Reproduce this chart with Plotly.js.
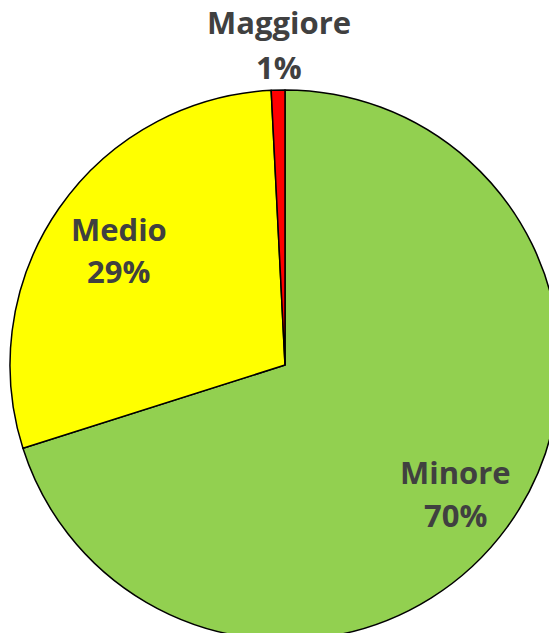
<!DOCTYPE html>
<html><head><meta charset="utf-8">
<script src="https://cdn.plot.ly/plotly-3.0.1.min.js"></script>
<style>html,body{margin:0;padding:0;overflow:hidden;width:549px;height:633px;background:#fff}
#chart{position:absolute;left:0;top:0;width:570px;height:730px}</style>
</head><body><div id="chart"></div>
<script>
const categories = ['Minore', 'Medio', 'Maggiore'];
const values = [70.1, 29.1, 0.8];
const colors = ['#92D050', '#FFFF00', '#FF0000'];

// label placement (pixel centers in page) — layout only
const labelPos = [[455, 472, 515], [118.5, 228.5, 271], [278.5, 22.5, 67]];

const W = 570, H = 730, T = 90, B = 90;
const total = values.reduce((a, b) => a + b, 0);
const font = {family: 'Open Sans', size: 31, color: '#404040'};
const annotations = [];
categories.forEach((c, i) => {
  const pct = Math.round(values[i] / total * 100) + '%';
  const [x, y1, y2] = labelPos[i];
  [[c, y1], [pct, y2]].forEach(([t, y]) => {
    annotations.push({
      text: '<b>' + t + '</b>', showarrow: false,
      xref: 'paper', yref: 'paper',
      x: x / W, y: (H - B - y) / (H - T - B),
      xanchor: 'center', yanchor: 'middle', font: font
    });
  });
});

Plotly.newPlot('chart', [{
  type: 'pie',
  labels: categories,
  values: values,
  sort: false,
  direction: 'clockwise',
  rotation: 0,
  marker: {colors: colors, line: {color: '#000', width: 1.5}},
  textinfo: 'none',
  hoverinfo: 'none',
  showlegend: false
}], {
  width: W, height: H,
  margin: {l: 0, r: 0, t: T, b: B, pad: 0},
  paper_bgcolor: '#fff',
  showlegend: false,
  annotations: annotations
}, {displayModeBar: false, staticPlot: true});
</script></body></html>
